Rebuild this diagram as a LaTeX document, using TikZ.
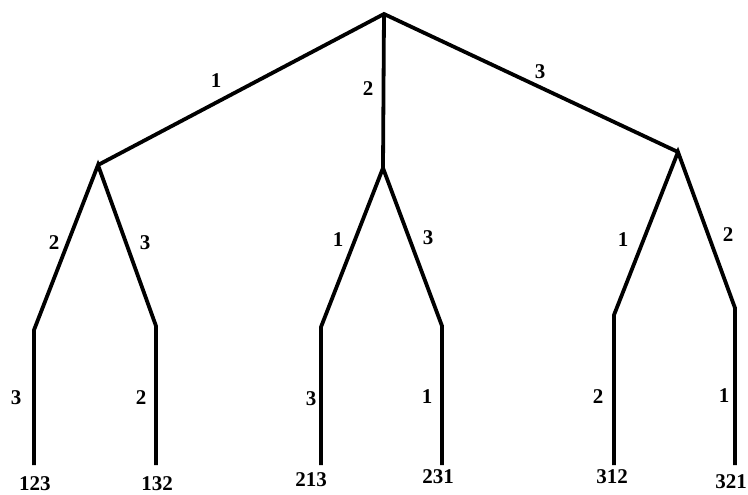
\documentclass[tikz,border=0pt]{standalone}
\usepackage{fontspec}
\setmainfont{Liberation Serif}
\begin{document}
\begin{tikzpicture}[x=1pt,y=-1pt,
  branch/.style={line width=3.8pt,line cap=butt,line join=miter},
  lbl/.style={font=\fontsize{21}{23}\selectfont\bfseries,inner sep=0pt},
  leaf/.style={font=\fontsize{21}{23}\selectfont\bfseries,inner sep=0pt}]
\useasboundingbox (0,0) rectangle (748,495);
% branching points
\coordinate (r) at (384,14);
\coordinate (a) at (98,165);
\coordinate (b) at (383,168);
\coordinate (c) at (678,152);
\coordinate (a1) at (34,330);
\coordinate (a2) at (156,326);
\coordinate (b1) at (321,327);
\coordinate (b2) at (442,326);
\coordinate (c1) at (614,315);
\coordinate (c2) at (735,308);
\coordinate (a1e) at (34,465);
\coordinate (a2e) at (156,465);
\coordinate (b1e) at (321,465);
\coordinate (b2e) at (442,465);
\coordinate (c1e) at (614,465);
\coordinate (c2e) at (735,465);
% branches
\draw[branch] (a) -- (r) -- (c);
\draw[branch] (r) -- (b);
\draw[branch] (a1e) -- (a1) -- (a) -- (a2) -- (a2e);
\draw[branch] (b1e) -- (b1) -- (b) -- (b2) -- (b2e);
\draw[branch] (c1e) -- (c1) -- (c) -- (c2) -- (c2e);
% labels on the branches
\node[lbl] (l1) at (216,81) {1};
\node[lbl] (l2) at (368,89) {2};
\node[lbl] (l3) at (540,72) {3};
\node[lbl] (la1) at (54,243) {2};
\node[lbl] (la2) at (145,243) {3};
\node[lbl] (lb1) at (338,240) {1};
\node[lbl] (lb2) at (428,238) {3};
\node[lbl] (lc1) at (623,240) {1};
\node[lbl] (lc2) at (728,235) {2};
\node[lbl] (ma1) at (16,398) {3};
\node[lbl] (ma2) at (141,398) {2};
\node[lbl] (mb1) at (311,399) {3};
\node[lbl] (mb2) at (427,397) {1};
\node[lbl] (mc1) at (598,397) {2};
\node[lbl] (mc2) at (724,396) {1};
% permutations at the leaves
\node[leaf] (p123) at (35,484) {123};
\node[leaf] (p132) at (157,484) {132};
\node[leaf] (p213) at (311,480) {213};
\node[leaf] (p231) at (438,477) {231};
\node[leaf] (p312) at (612,477) {312};
\node[leaf] (p321) at (731,482) {321};
\end{tikzpicture}
\end{document}
